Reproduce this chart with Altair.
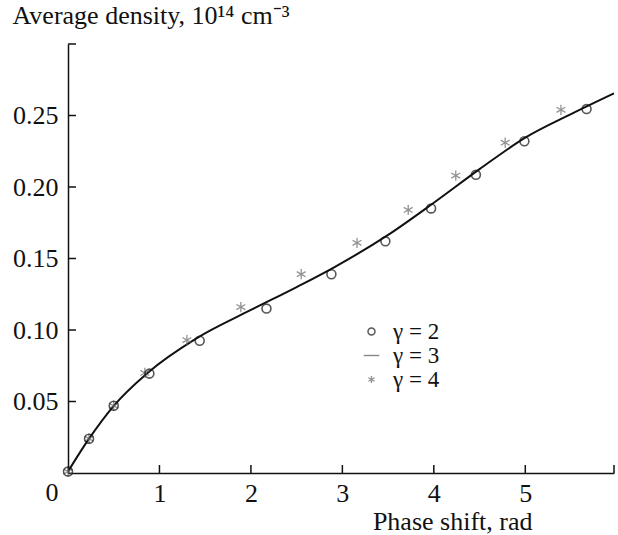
import altair as alt
import pandas as pd

# gamma = 3 (solid curve)
line_x = [0.0, 0.23, 0.5, 0.87, 1.4, 2.0, 2.5, 2.9, 3.5, 4.0, 4.5, 5.0, 5.5, 5.97]
line_y = [0.001, 0.024, 0.047, 0.070, 0.094, 0.114, 0.130, 0.1435, 0.1665, 0.189, 0.2125, 0.2345, 0.251, 0.2655]

# gamma = 2 (open circles)
g2_x = [0.0, 0.23, 0.5, 0.89, 1.44, 2.17, 2.88, 3.47, 3.97, 4.46, 4.99, 5.67]
g2_y = [0.001, 0.024, 0.047, 0.0695, 0.0925, 0.115, 0.139, 0.162, 0.185, 0.2085, 0.232, 0.2545]

# gamma = 4 (asterisks)
g4_x = [0.0, 0.23, 0.5, 0.84, 1.30, 1.89, 2.55, 3.16, 3.72, 4.24, 4.78, 5.39]
g4_y = [0.001, 0.024, 0.047, 0.070, 0.093, 0.116, 0.139, 0.161, 0.184, 0.208, 0.231, 0.254]

series_names = ["γ = 2", "γ = 3", "γ = 4"]
x_ticks = [1, 2, 3, 4, 5]
y_ticks = [0.05, 0.10, 0.15, 0.20, 0.25]
x_max = 5.97
y_max = 0.30

FONT = "Liberation Serif"
FS = 26
W, H = 546, 429

line_df = pd.DataFrame({"x": line_x, "y": line_y})
pts_df = pd.concat([
    pd.DataFrame({"x": g2_x, "y": g2_y, "s": series_names[0]}),
    pd.DataFrame({"x": g4_x, "y": g4_y, "s": series_names[2]}),
], ignore_index=True)

xs = alt.Scale(domain=[0, x_max], nice=False, zero=False)
ys = alt.Scale(domain=[0, y_max], nice=False, zero=False)

ASTER = "M0,-1L0,1M-0.866,-0.5L0.866,0.5M-0.866,0.5L0.866,-0.5"
DASH = "M-2.2,0L2.2,0"

x_axis = alt.Axis(values=x_ticks, format="d", title="Phase shift, rad",
                  titleX=464, titleY=48, titleAlign="right", titleBaseline="middle",
                  labelPadding=7)
y_axis = alt.Axis(values=y_ticks, format=".2f", title="Average density, 10¹⁴ cm⁻³",
                  titleAngle=0, titleX=-56, titleY=-21, titleAlign="left",
                  titleBaseline="alphabetic", titleFontSize=26, labelPadding=10)

line = alt.Chart(line_df).mark_line(color="#111", strokeWidth=2, interpolate="monotone").encode(
    x=alt.X("x:Q", scale=xs, axis=x_axis),
    y=alt.Y("y:Q", scale=ys, axis=y_axis),
)

shape_scale = alt.Scale(domain=series_names, range=["circle", DASH, ASTER])
color_scale = alt.Scale(domain=series_names, range=["#111", "#555", "#666"])

LEG = alt.Legend(orient="none", legendX=292, legendY=276, title=None,
                 labelFont=FONT, labelFontSize=23, labelColor="#111",
                 symbolSize=50, symbolStrokeWidth=1.4, rowPadding=0,
                 labelOffset=10, padding=0, symbolFillColor="transparent")

circles = alt.Chart(pts_df).transform_filter(alt.datum.s == series_names[0]).mark_point(
    filled=False, strokeWidth=1.6, size=80, clip=False).encode(
    x=alt.X("x:Q", scale=xs),
    y=alt.Y("y:Q", scale=ys),
    shape=alt.Shape("s:N", scale=shape_scale, legend=LEG),
    color=alt.Color("s:N", scale=color_scale, legend=LEG),
)

stars = alt.Chart(pts_df).transform_filter(alt.datum.s == series_names[2]).mark_point(
    filled=False, strokeWidth=1.3, size=105, clip=False).encode(
    x=alt.X("x:Q", scale=xs),
    y=alt.Y("y:Q", scale=ys),
    shape=alt.Shape("s:N", scale=shape_scale, legend=LEG),
    color=alt.Color("s:N", scale=color_scale, legend=LEG),
)

tick_x_df = pd.DataFrame({"x": x_ticks + [x_max]})
tick_y_df = pd.DataFrame({"y": y_ticks + [y_max]})

xt = alt.Chart(tick_x_df).mark_rule(color="#111", strokeWidth=1.5).encode(
    x=alt.X("x:Q", scale=xs), y=alt.value(H), y2=alt.value(H - 8))
yt = alt.Chart(tick_y_df).mark_rule(color="#111", strokeWidth=1.5).encode(
    y=alt.Y("y:Q", scale=ys), x=alt.value(0), x2=alt.value(8))

zero_df = pd.DataFrame({"x": [0], "y": [0], "t": ["0"]})
zero = alt.Chart(zero_df).mark_text(font=FONT, fontSize=FS, color="#111", dx=-16, dy=20,
                                    align="center", baseline="middle").encode(
    x=alt.X("x:Q", scale=xs), y=alt.Y("y:Q", scale=ys), text="t:N")

chart = alt.layer(line, xt, yt, stars, circles, zero).resolve_scale(
    shape="shared", color="shared"
).properties(
    width=W, height=H,
    padding={"left": 68, "top": 44, "right": 4, "bottom": 62},
    autosize=alt.AutoSizeParams(type="none"),
    background="white",
).configure_view(stroke=None).configure_axis(
    grid=False, ticks=False, domainColor="#111", domainWidth=1.5,
    labelFont=FONT, labelFontSize=FS, labelColor="#111",
    titleFont=FONT, titleFontSize=FS, titleFontWeight="normal", titleColor="#111",
)

chart.save("out.html", embed_options={"renderer": "svg", "actions": False})
